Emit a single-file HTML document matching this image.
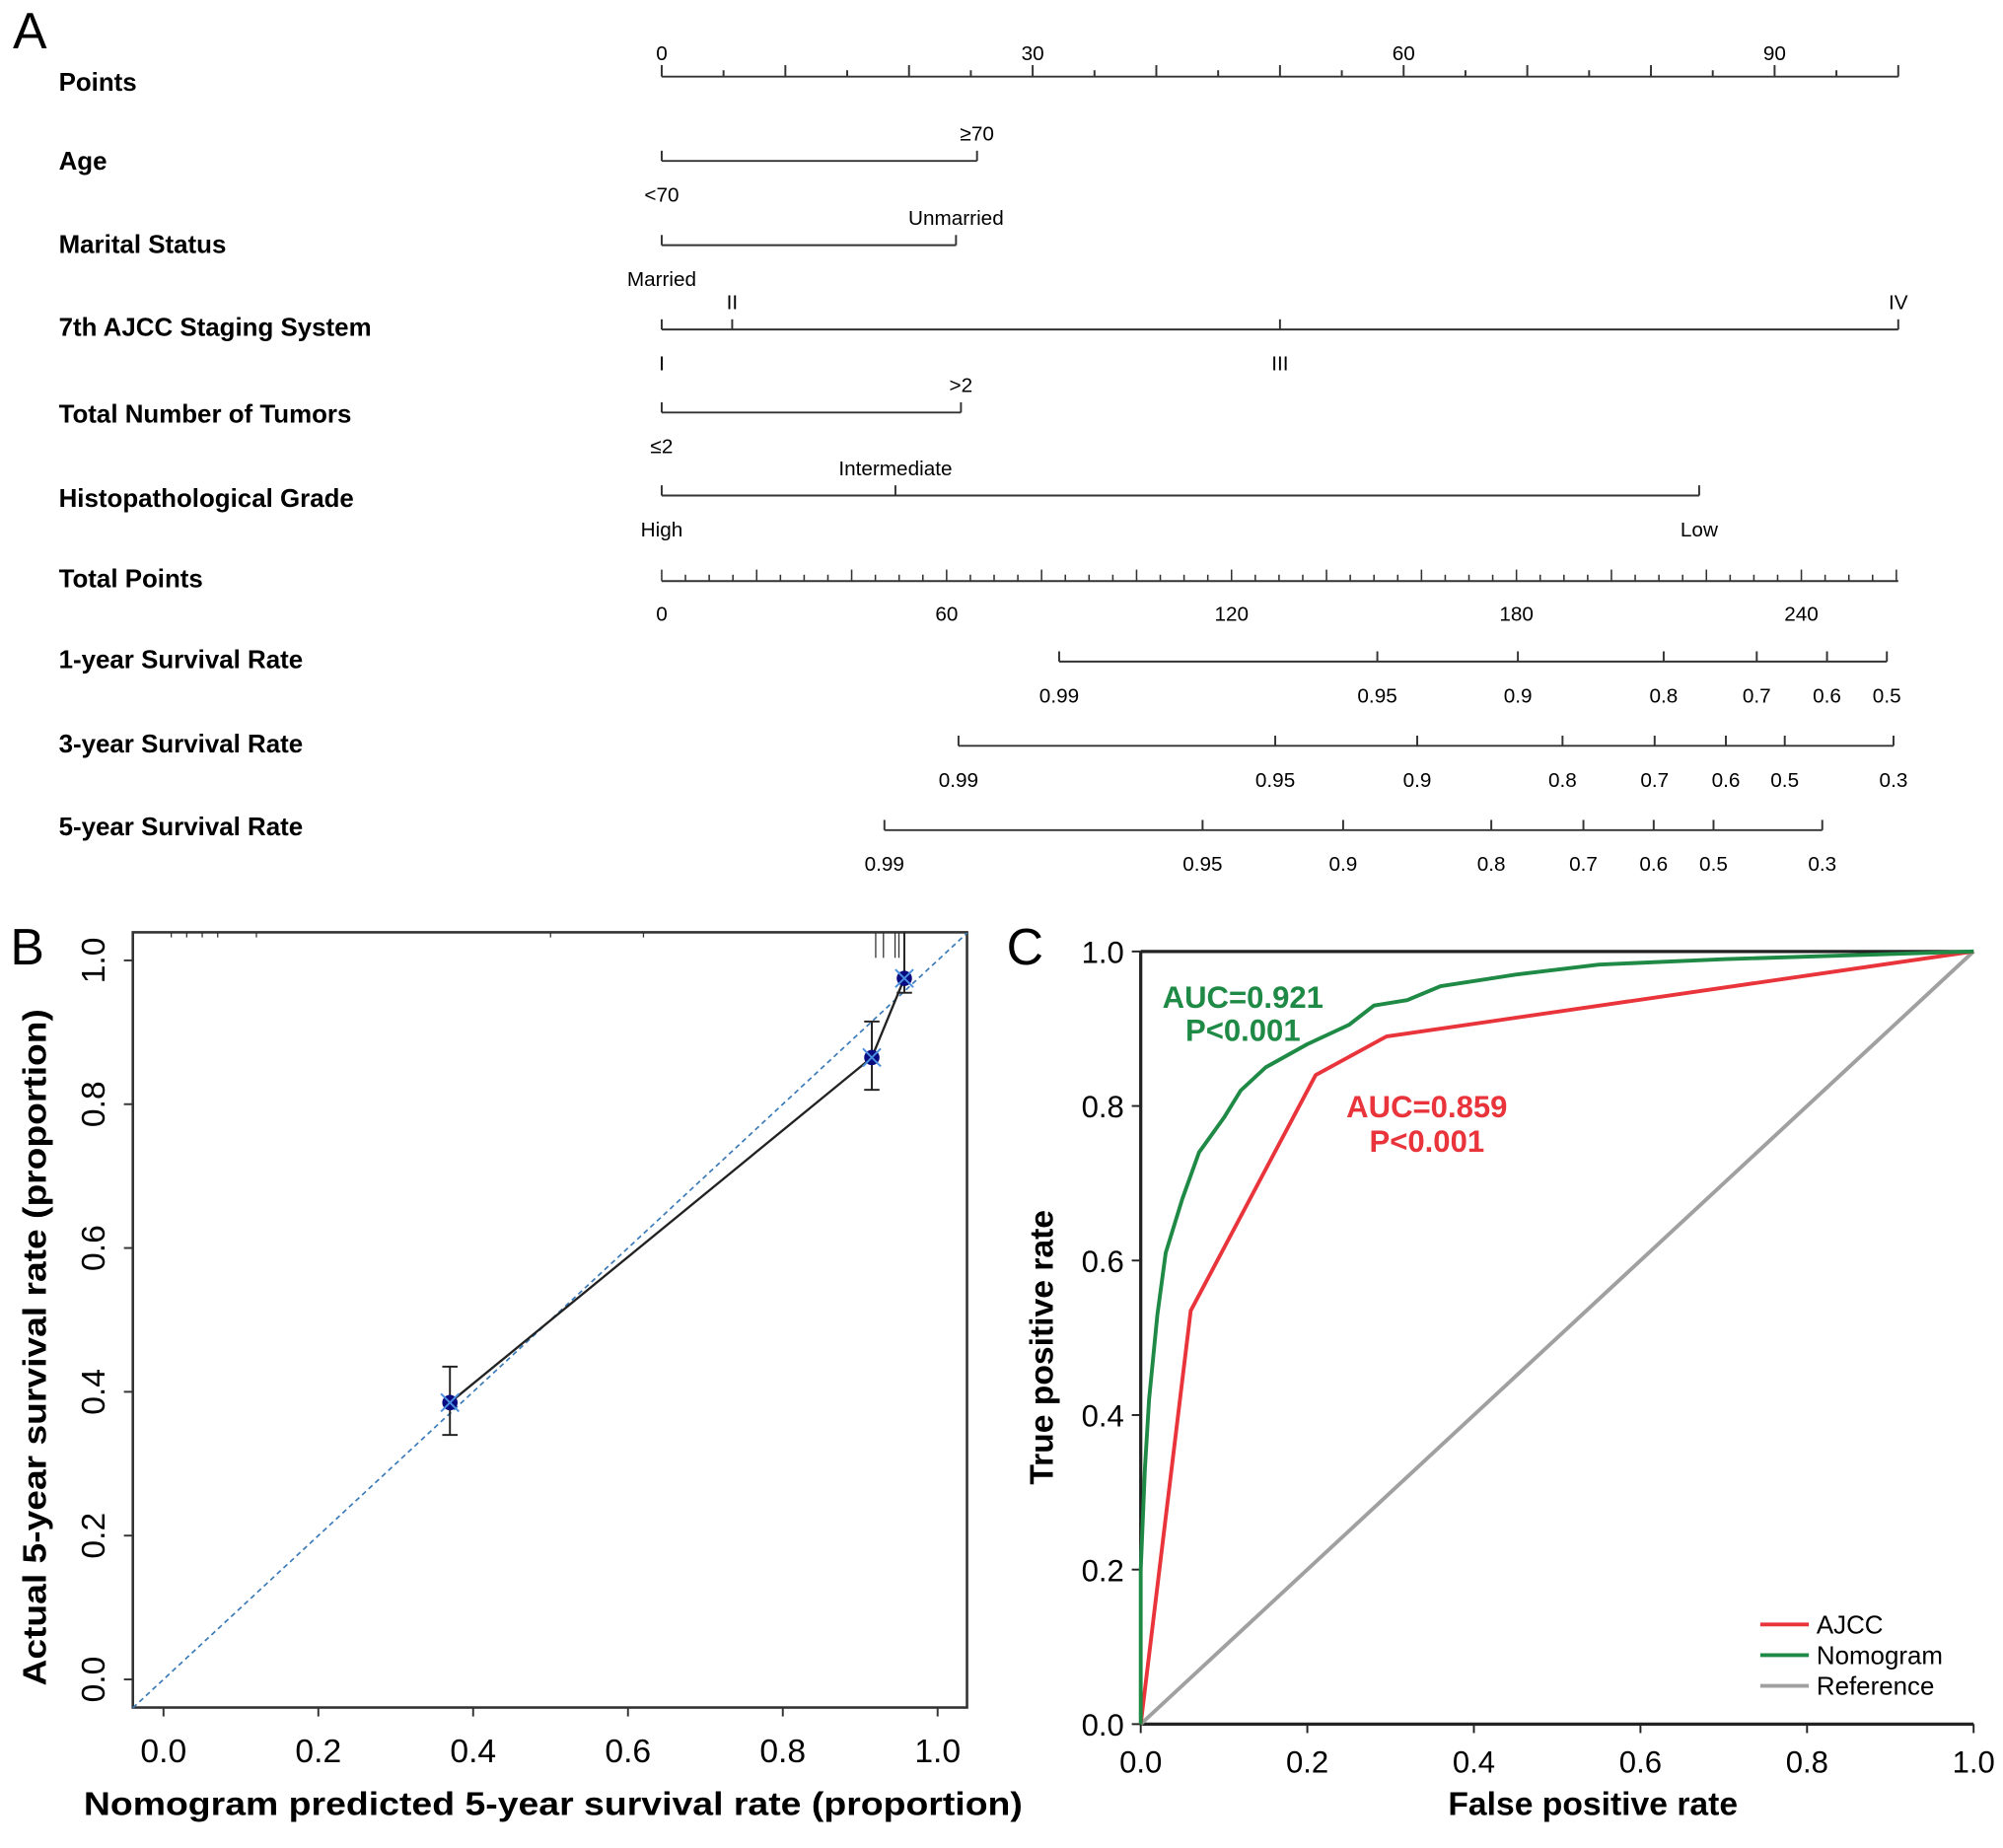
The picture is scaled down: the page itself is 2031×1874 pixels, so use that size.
<!DOCTYPE html>
<html><head><meta charset="utf-8"><style>
html,body{margin:0;padding:0;background:#fff}
svg{display:block}
text{font-family:"Liberation Sans",Arial,sans-serif}
</style></head><body>
<svg id="fig" width="2031" height="1874" viewBox="0 0 1568 1447" preserveAspectRatio="none" xmlns="http://www.w3.org/2000/svg">
<rect width="1568" height="1447" fill="#fff"/>
<text x="10" y="38" font-size="40">A</text>
<text x="8" y="755" font-size="40">B</text>
<text x="788" y="755" font-size="40">C</text>
<g id="nomo"></g>
<g id="calib"></g>
<g id="roc"></g>
</svg>
<script>
// ---------- Nomogram data ----------
const rowLabels=["Points","Age","Marital Status","7th AJCC Staging System","Total Number of Tumors","Histopathological Grade","Total Points","1-year Survival Rate","3-year Survival Rate","5-year Survival Rate"];
const pointTicks=[0,30,60,90];
const ageLevels=["<70","≥70"], agePts=[0,25.5];
const maritalLevels=["Married","Unmarried"], maritalPts=[0,23.8];
const ajccLevels=["I","II","III","IV"], ajccPts=[0,5.7,50,100];
const tumorLevels=["≤2",">2"], tumorPts=[0,24.2];
const gradeLevels=["High","Intermediate","Low"], gradePts=[0,18.9,83.9];
const totalTicks=[0,60,120,180,240];
const totalMax=260.4;
const surv1Labels=["0.99","0.95","0.9","0.8","0.7","0.6","0.5"], surv1Total=[83.7,150.7,180.3,211,230.6,245.4,258];
const surv3Labels=["0.99","0.95","0.9","0.8","0.7","0.6","0.5","0.3"], surv3Total=[62.5,129.2,159.1,189.7,209.1,224.1,236.5,259.4];
const surv5Labels=["0.99","0.95","0.9","0.8","0.7","0.6","0.5","0.3"], surv5Total=[46.9,113.9,143.5,174.7,194.1,208.9,221.5,244.4];

const NS="http://www.w3.org/2000/svg";
function mk(parent,tag,attrs,txt){const e=document.createElementNS(NS,tag);for(const k in attrs)e.setAttribute(k,attrs[k]);if(txt!==undefined)e.textContent=txt;parent.appendChild(e);return e;}
const nomo=document.getElementById('nomo');
const X0=518,X1=1486;
const px=p=>X0+(X1-X0)*p/100;
const tx=t=>X0+(X1-X0)*t/totalMax;
const rowY=[64,126,191,256,324,390,453,516,582,647];
rowLabels.forEach((l,i)=>{const t=mk(nomo,'text',{x:46,y:rowY[i]+7,'font-size':20,'font-weight':'bold'},l);

});
const ln=(x1,y1,x2,y2,w)=>mk(nomo,'line',{x1,y1,x2,y2,stroke:'#333','stroke-width':w||1.5});
const lbl=(x,y,s,fs)=>{const t=mk(nomo,'text',{x,y,'font-size':fs||16,'text-anchor':'middle'},s);

return t;};
// Points axis
ln(X0,60,X1,60);
for(let p=0;p<=100;p+=5){ln(px(p),60,px(p),p%10===0?51:55);}
pointTicks.forEach(p=>lbl(px(p),47,String(p)));
// Variable scales
function varScale(y,levels,pts,above){
  const xs=pts.map(px);
  ln(Math.min(...xs),y,Math.max(...xs),y);
  xs.forEach((x,i)=>{ln(x,y,x,y-8);
    const up=above[i];
    lbl(x,up?y-16:y+32,levels[i]);});
}
varScale(126,ageLevels,agePts,[false,true]);
varScale(192,maritalLevels,maritalPts,[false,true]);
varScale(258,ajccLevels,ajccPts,[false,true,false,true]);
varScale(323,tumorLevels,tumorPts,[false,true]);
varScale(388,gradeLevels,gradePts,[false,true,false]);
// Total points
ln(X0,455,X1,455);
for(let t=0;t<=totalMax;t+=5){ln(tx(t),455,tx(t),t%20===0?446:450,1.2);}
totalTicks.forEach(t=>lbl(tx(t),486,String(t)));
function survScale(y,labels,tot){
  const xs=tot.map(tx);
  ln(xs[0],y,xs[xs.length-1],y);
  xs.forEach((x,i)=>{ln(x,y,x,y-8);lbl(x,y+32,labels[i]);});
}
survScale(518,surv1Labels,surv1Total);
survScale(584,surv3Labels,surv3Total);
survScale(650,surv5Labels,surv5Total);

// ---------- Calibration data ----------
const calPred=[0.37,0.915,0.957];
const calObs=[0.385,0.865,0.975];
const calLo=[0.34,0.82,0.955];
const calHi=[0.435,0.915,1.04];
const calTicks=[0,0.2,0.4,0.6,0.8,1.0];
const rugX=[0.01,0.03,0.05,0.07,0.12,0.5,0.62,0.92,0.93,0.945,0.95];
const cal=document.getElementById('calib');
const bx=v=>128+606*v, by=v=>1315-563*v;
mk(cal,'rect',{x:104,y:730,width:653,height:607,fill:'none',stroke:'#333','stroke-width':2});
calTicks.forEach(v=>{
  mk(cal,'line',{x1:bx(v),y1:1337,x2:bx(v),y2:1344,stroke:'#333','stroke-width':1.5});
  const t=mk(cal,'text',{x:bx(v),y:1380,'font-size':26,'text-anchor':'middle'},v.toFixed(1));
  
  
  mk(cal,'line',{x1:104,y1:by(v),x2:97,y2:by(v),stroke:'#333','stroke-width':1.5});
  const u=mk(cal,'text',{x:0,y:0,'font-size':26,'text-anchor':'middle',transform:`translate(82,${by(v)}) rotate(-90)`},v.toFixed(1));
  
  
});
rugX.forEach(v=>mk(cal,'line',{x1:bx(v),y1:730,x2:bx(v),y2:v>0.9?750:734,stroke:'#333','stroke-width':1}));
mk(cal,'line',{x1:104,y1:by((104-128)/606),x2:757,y2:by((757-128)/606),stroke:'#3a7ab8','stroke-width':1.3,'stroke-dasharray':'4,3'});
mk(cal,'polyline',{points:calPred.map((p,i)=>bx(p)+','+by(calObs[i])).join(' '),fill:'none',stroke:'#222','stroke-width':1.8});
calPred.forEach((p,i)=>{
  const x=bx(p);
  mk(cal,'line',{x1:x,y1:by(calLo[i]),x2:x,y2:Math.max(by(calHi[i]),730),stroke:'#222','stroke-width':1.5});
  [calLo[i],calHi[i]].forEach(v=>{if(by(v)>=730)mk(cal,'line',{x1:x-6,y1:by(v),x2:x+6,y2:by(v),stroke:'#222','stroke-width':1.5});});
  const c=mk(cal,'circle',{cx:x,cy:by(calObs[i]),r:6,fill:'#0a0a80'});
  
  
  mk(cal,'path',{d:`M${x-7},${by(calObs[i])-7}l14,14M${x+7},${by(calObs[i])-7}l-14,14`,stroke:'#4a8fe0','stroke-width':1.5});
});
let t1=mk(cal,'text',{x:0,y:0,'font-size':26,'font-weight':'bold','text-anchor':'middle',transform:'translate(36,1055) rotate(-90)',textLength:530,lengthAdjust:'spacingAndGlyphs'},'Actual 5-year survival rate (proportion)');


let t2=mk(cal,'text',{x:433,y:1421,'font-size':26,'font-weight':'bold','text-anchor':'middle',textLength:735,lengthAdjust:'spacingAndGlyphs'},'Nomogram predicted 5-year survival rate (proportion)');



// ---------- ROC data ----------
const nomoFpr=[0,0,0.005,0.01,0.02,0.03,0.05,0.07,0.1,0.12,0.15,0.2,0.25,0.28,0.32,0.36,0.45,0.55,0.7,1];
const nomoTpr=[0,0.2,0.33,0.42,0.53,0.61,0.68,0.74,0.785,0.82,0.85,0.88,0.905,0.93,0.937,0.955,0.97,0.983,0.99,1];
const ajccFpr=[0,0.06,0.21,0.295,1];
const ajccTpr=[0,0.535,0.84,0.89,1];
const refFpr=[0,1], refTpr=[0,1];
const rocTicks=[0,0.2,0.4,0.6,0.8,1.0];
const roc=document.getElementById('roc');
const rx=v=>893+652*v, ry=v=>1350-605*v;
mk(roc,'line',{x1:893,y1:745,x2:1545,y2:745,stroke:'#222','stroke-width':2.5});
mk(roc,'line',{x1:893,y1:1350,x2:1545,y2:1350,stroke:'#222','stroke-width':2.5});
mk(roc,'line',{x1:893,y1:745,x2:893,y2:1350,stroke:'#222','stroke-width':2.5});
rocTicks.forEach(v=>{
  mk(roc,'line',{x1:rx(v),y1:1350,x2:rx(v),y2:1357,stroke:'#222','stroke-width':1.5});
  const a=mk(roc,'text',{x:rx(v),y:1388,'font-size':24,'text-anchor':'middle'},v.toFixed(1));
  
  
  mk(roc,'line',{x1:893,y1:ry(v),x2:886,y2:ry(v),stroke:'#222','stroke-width':1.5});
  const b=mk(roc,'text',{x:880,y:ry(v)+9,'font-size':24,'text-anchor':'end'},v.toFixed(1));
  
  
});
function curve(f,t,color,name){const p=mk(roc,'polyline',{points:f.map((v,i)=>rx(v)+','+ry(t[i])).join(' '),fill:'none',stroke:color,'stroke-width':3,'stroke-linejoin':'round'});

}
curve(refFpr,refTpr,'#a0a0a0','reference-line');
curve(ajccFpr,ajccTpr,'#e8343a','ajcc-curve');
curve(nomoFpr,nomoTpr,'#1f8a45','nomogram-curve');
const ann=[["AUC=0.921",973,780,'#1f8a45'],["P<0.001",973,806,'#1f8a45'],["AUC=0.859",1117,866,'#e8343a'],["P<0.001",1117,893,'#e8343a']];
ann.forEach(a=>{const t=mk(roc,'text',{x:a[1],y:a[2]+9,'font-size':24,'font-weight':'bold','text-anchor':'middle',fill:a[3]},a[0]);

});
const legNames=["AJCC","Nomogram","Reference"], legColors=['#e8343a','#1f8a45','#a0a0a0'];
legNames.forEach((n,i)=>{const y=1272+24*i;
  mk(roc,'line',{x1:1378,y1:y,x2:1416,y2:y,stroke:legColors[i],'stroke-width':3});
  const t=mk(roc,'text',{x:1422,y:y+7,'font-size':20},n);
  
  });
let t3=mk(roc,'text',{x:0,y:0,'font-size':26,'font-weight':'bold','text-anchor':'middle',transform:'translate(824,1055) rotate(-90)'},'True positive rate');


let t4=mk(roc,'text',{x:1247,y:1421,'font-size':26,'font-weight':'bold','text-anchor':'middle'},'False positive rate');


</script>
</body></html>
